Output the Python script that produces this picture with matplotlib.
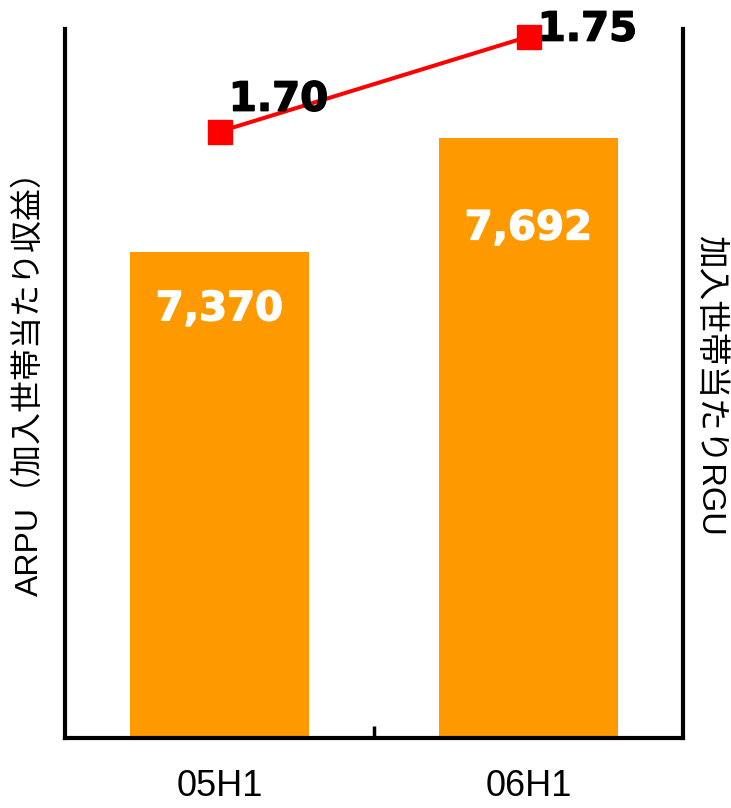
import matplotlib
matplotlib.use("Agg")
import matplotlib.pyplot as plt
import matplotlib.patheffects as pe
from matplotlib.ticker import FixedLocator

# data
periods = ["05H1", "06H1"]
arpu = [7370, 7692]
rgu = [1.70, 1.75]
arpu_labels = ["7,370", "7,692"]
rgu_labels = ["1.70", "1.75"]

left_title = "ARPU（加入世帯当たり収益）"
right_title = "加入世帯当たりRGU"

BAR_COLOR = "#FF9900"
LINE_COLOR = "#FF0000"
CJK = ["Liberation Sans", "Noto Sans CJK JP"]

fig = plt.figure(figsize=(7.31, 8.08), dpi=100)
ax = fig.add_axes([65 / 731, 70 / 808, 618 / 731, 709 / 808])
x = list(range(len(periods)))

ax.bar(x, arpu, width=0.58, color=BAR_COLOR, zorder=2)
ax.set_xlim(-0.5, 1.5)
ax.set_ylim(6000, 8000)

for s in ["left", "right", "bottom"]:
    ax.spines[s].set_linewidth(3)
    ax.spines[s].set_color("black")
ax.spines["top"].set_visible(False)
ax.set_yticks([])

ax.set_xticks(x)
ax.set_xticklabels(periods, fontsize=26, fontfamily="Liberation Sans")
ax.tick_params(axis="x", which="major", length=0, pad=22)
ax.xaxis.set_minor_locator(FixedLocator([0.5]))
ax.tick_params(axis="x", which="minor", direction="in", length=8.5, width=2.5)

# bar value labels inside the bars
bar_offsets = [-41, -65]
for xi, v, lab, off in zip(x, arpu, arpu_labels, bar_offsets):
    ax.annotate(lab, xy=(xi, v), xytext=(0, off), textcoords="offset points",
                ha="center", va="center", color="white", fontsize=29,
                fontweight="bold", fontfamily="DejaVu Sans", zorder=3,
                path_effects=[pe.withStroke(linewidth=1.0, foreground="white")])

# RGU line on the secondary axis
ax2 = ax.twinx()
ax2.set_ylim(1.381, 1.754)
ax2.set_yticks([])
for s in ax2.spines.values():
    s.set_visible(False)
ax2.plot(x, rgu, color=LINE_COLOR, linewidth=2.9, marker="s", markersize=17,
         markeredgecolor=LINE_COLOR, clip_on=False, zorder=4)

line_offsets = [(42.5, 23), (42.5, 5)]
for xi, v, lab, off in zip(x, rgu, rgu_labels, line_offsets):
    ax2.annotate(lab, xy=(xi, v), xytext=off, textcoords="offset points",
                 ha="center", va="center", color="black", fontsize=29,
                 fontweight="bold", fontfamily="DejaVu Sans",
                 annotation_clip=False, zorder=5,
                 path_effects=[pe.withStroke(linewidth=1.0, foreground="black")])

fig.text(30 / 731, 1 - 376 / 808, left_title, rotation=90, ha="center",
         va="center", fontsize=23, family=CJK)
fig.text(710 / 731, 1 - 385 / 808, right_title, rotation=-90, ha="center",
         va="center", fontsize=23.5, family=CJK)

fig.savefig("out.png", dpi=100)
